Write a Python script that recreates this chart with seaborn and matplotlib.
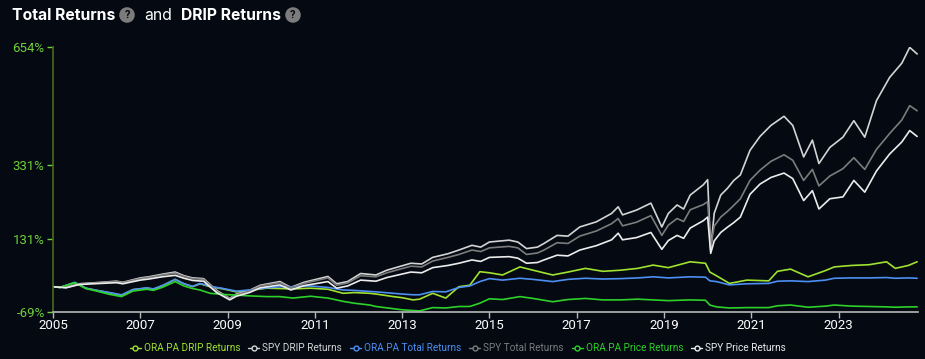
import numpy as np
import pandas as pd
import matplotlib
matplotlib.use('Agg')
import matplotlib.pyplot as plt
from matplotlib.lines import Line2D
import seaborn as sns

sns.set_style('dark')
plt.rcParams['font.family'] = ['Roboto', 'DejaVu Sans']

bg = '#040912'

# SPY series, dates in decimal years, values in %
spy_dates = [2005.0, 2005.3, 2005.6, 2006.1, 2006.45, 2006.6, 2007.0, 2007.2, 2007.5, 2007.8,
             2008.0, 2008.2, 2008.45, 2008.75, 2009.05, 2009.2, 2009.5, 2009.75, 2010.2, 2010.45,
             2010.75, 2011.3, 2011.5, 2011.75, 2012.05, 2012.4, 2012.65, 2013.2, 2013.45, 2013.7,
             2014.05, 2014.3, 2014.6, 2014.8, 2015.0, 2015.45, 2015.65, 2015.85, 2016.1, 2016.25,
             2016.55, 2016.8, 2017.07, 2017.45, 2017.8, 2017.95, 2018.05, 2018.37, 2018.7, 2018.95,
             2019.1, 2019.3, 2019.45, 2019.6, 2019.9, 2020.0, 2020.07, 2020.15, 2020.3, 2020.45,
             2020.6, 2020.75, 2020.97, 2021.2, 2021.45, 2021.75, 2021.95, 2022.2, 2022.4, 2022.55,
             2022.8, 2023.1, 2023.35, 2023.6, 2023.87, 2024.17, 2024.45, 2024.63, 2024.8]
spy_drip = [0, -2, 8, 12, 15, 12, 24, 27, 34, 40,
            30, 24, 22, -10, -32, -20, -10, 4, 14, -2,
            12, 28, 8, 14, 36, 32, 45, 64, 62, 80,
            90, 100, 113, 108, 122, 127, 122, 104, 108, 118,
            140, 138, 163, 177, 200, 218, 196, 209, 228, 163,
            200, 223, 212, 250, 278, 292, 100, 200, 250, 268,
            290, 305, 372, 410, 440, 465, 440, 354, 400, 336,
            380, 408, 453, 408, 508, 571, 610, 653, 635]
spy_total = [0, -2, 7, 11, 14, 11, 22, 25, 32, 37,
             28, 22, 20, -12, -33, -22, -12, 2, 11, -4,
             9, 24, 4, 10, 30, 27, 38, 56, 54, 70,
             80, 88, 100, 96, 106, 110, 106, 88, 92, 100,
             120, 118, 138, 152, 172, 186, 166, 176, 194, 140,
             168, 186, 178, 210, 224, 232, 110, 165, 190, 205,
             222, 240, 290, 318, 342, 360, 345, 290, 320, 275,
             302, 322, 352, 320, 375, 418, 455, 494, 480]
spy_price = [0, -3, 6, 9, 11, 8, 18, 21, 27, 31,
             23, 17, 15, -16, -36, -26, -16, -3, 5, -9,
             3, 14, -4, 2, 18, 15, 25, 40, 38, 52,
             58, 64, 73, 69, 80, 82, 78, 64, 66, 73,
             86, 84, 100, 112, 128, 146, 128, 134, 148, 102,
             126, 140, 132, 160, 180, 190, 91, 125, 148, 162,
             175, 190, 252, 280, 298, 310, 295, 235, 262, 212,
             240, 245, 290, 258, 316, 362, 395, 426, 410]

# ORA.PA series
ora_dates = [2005.0, 2005.16, 2005.5, 2005.75, 2006.0, 2006.3, 2006.57, 2006.83, 2007.15, 2007.3,
             2007.52, 2007.8, 2008.0, 2008.2, 2008.37, 2008.6, 2008.9, 2009.2, 2009.5, 2009.9,
             2010.2, 2010.5, 2010.9, 2011.3, 2011.65, 2011.9, 2012.26, 2012.4, 2012.8, 2013.0,
             2013.25, 2013.4, 2013.7, 2014.0, 2014.3, 2014.55, 2014.78, 2015.0, 2015.3, 2015.7,
             2016.0, 2016.45, 2016.8, 2017.2, 2017.6, 2018.0, 2018.4, 2018.75, 2019.1, 2019.6,
             2019.95, 2020.05, 2020.2, 2020.5, 2020.9, 2021.4, 2021.6, 2021.9, 2022.3, 2022.7,
             2022.9, 2023.3, 2023.7, 2024.1, 2024.3, 2024.6, 2024.8]
ora_drip = [0, -2, 11, -4, -10, -17, -24, -8, -4, -7,
            3, 20, 8, 0, 8, 0, -6, -14, -10, -4,
            -5, -6, -4, -7, -18, -16, -18, -20, -27, -30,
            -36, -34, -18, -31, 0, 4, 41, 38, 32, 54,
            45, 32, 40, 50, 42, 45, 50, 59, 52, 68,
            64, 40, 30, 9, 18, 16, 42, 48, 27, 44,
            54, 58, 60, 68, 50, 58, 68]
ora_total = [0, -2, 12, -4, -10, -16, -22, -8, -3, -6,
             4, 20, 8, 1, 9, 1, -5, -12, -9, -3,
             0, 0, 2, -2, -9, -10, -13, -14, -18, -20,
             -22, -22, -13, -14, -2, 2, 14, 22, 18, 23,
             20, 14, 20, 23, 21, 22, 24, 27, 24, 27,
             26, 16, 14, 5, 8, 9, 15, 16, 14, 18,
             23, 24, 24, 25, 23, 24, 23]
ora_price = [0, -2, 11, -5, -12, -21, -27, -12, -7, -10,
             -1, 14, 2, -5, -9, -18, -21, -23, -25, -27,
             -27, -31, -26, -31, -40, -45, -50, -54, -60, -63,
             -65, -66, -57, -58, -54, -54, -45, -33, -35, -27,
             -32, -41, -35, -32, -36, -36, -34, -36, -38, -36,
             -37, -50, -55, -58, -57, -57, -52, -50, -56, -53,
             -50, -53, -54, -55, -56, -55, -55]

series_names = ['ORA.PA DRIP Returns', 'SPY DRIP Returns', 'ORA.PA Total Returns',
                'SPY Total Returns', 'ORA.PA Price Returns', 'SPY Price Returns']
colors = ['#9fe22f', '#d4d4d4', '#4d8ff2', '#7c7c7c', '#2dd12a', '#ececec']

y_ticks = [-69, 131, 331, 654]
x_ticks = [2005, 2007, 2009, 2011, 2013, 2015, 2017, 2019, 2021, 2023]

frames = []
for name, d, v in [('ORA.PA DRIP Returns', ora_dates, ora_drip),
                   ('SPY DRIP Returns', spy_dates, spy_drip),
                   ('ORA.PA Total Returns', ora_dates, ora_total),
                   ('SPY Total Returns', spy_dates, spy_total),
                   ('ORA.PA Price Returns', ora_dates, ora_price),
                   ('SPY Price Returns', spy_dates, spy_price)]:
    frames.append(pd.DataFrame({'date': d, 'ret': v, 'series': name}))
df = pd.concat(frames, ignore_index=True)

palette = dict(zip(series_names, colors))

fig = plt.figure(figsize=(9.25, 3.59), dpi=100, facecolor=bg)
ax = fig.add_axes([53 / 925, 1 - 312 / 359, (918 - 53) / 925, (312 - 47) / 359])
ax.set_facecolor(bg)

sns.lineplot(data=df, x='date', y='ret', hue='series', hue_order=series_names,
             palette=palette, linewidth=1.2, legend=False, ax=ax, sort=False)

ax.set_xlim(2005, 2024.82)
ax.set_ylim(-69, 654)
ax.set_xticks(x_ticks)
ax.set_xticklabels([str(t) for t in x_ticks])
ax.set_yticks(y_ticks)
ax.set_yticklabels(['{}%'.format(t) for t in y_ticks])
ax.grid(False)
ax.set_xlabel('')
ax.set_ylabel('')

for s in ['top', 'right']:
    ax.spines[s].set_visible(False)
ax.spines['left'].set_color('#4b6a1f')
ax.spines['left'].set_linewidth(1.2)
ax.spines['bottom'].set_color('#b8b8b8')
ax.spines['bottom'].set_linewidth(1.2)

ax.tick_params(axis='y', colors='#6fd13a', labelsize=9.5, length=4, width=1, pad=2, left=True)
ax.tick_params(axis='x', colors='#b8b8b8', labelcolor='white', labelsize=9.5,
               length=4, width=1, pad=1, bottom=True)

# legend
handles = [Line2D([0], [0], color=c, lw=1, marker='o', markersize=3.5,
                  markerfacecolor=bg, markeredgecolor=c, markeredgewidth=1)
           for c in colors]
leg = fig.legend(handles, series_names, loc='center', bbox_to_anchor=(458 / 925, 1 - 348 / 359),
                 ncol=6, frameon=False, fontsize=7.2, handlelength=1.1, handletextpad=0.3,
                 columnspacing=0.8)
for t, c in zip(leg.get_texts(), colors):
    t.set_color(c)

# title
ty = 1 - 15 / 359
fig.text(12 / 925, ty, 'Total Returns', color='white', fontsize=11.3, fontweight='bold',
         va='center', ha='left', family=['Inter', 'Roboto', 'DejaVu Sans'])
fig.text(127 / 925, ty, '?', color=bg, fontsize=8, fontweight='bold', va='center', ha='center',
         bbox=dict(boxstyle='circle,pad=0.25', fc='#7c7c7c', ec='none'))
fig.text(144 / 925, ty, 'and', color='white', fontsize=11.3, va='center', ha='left',
         family=['Inter', 'Roboto', 'DejaVu Sans'])
fig.text(181 / 925, ty, 'DRIP Returns', color='white', fontsize=11.3, fontweight='bold',
         va='center', ha='left', family=['Inter', 'Roboto', 'DejaVu Sans'])
fig.text(293 / 925, ty, '?', color=bg, fontsize=8, fontweight='bold', va='center', ha='center',
         bbox=dict(boxstyle='circle,pad=0.25', fc='#7c7c7c', ec='none'))

fig.savefig('out.png', dpi=100, facecolor=bg)
